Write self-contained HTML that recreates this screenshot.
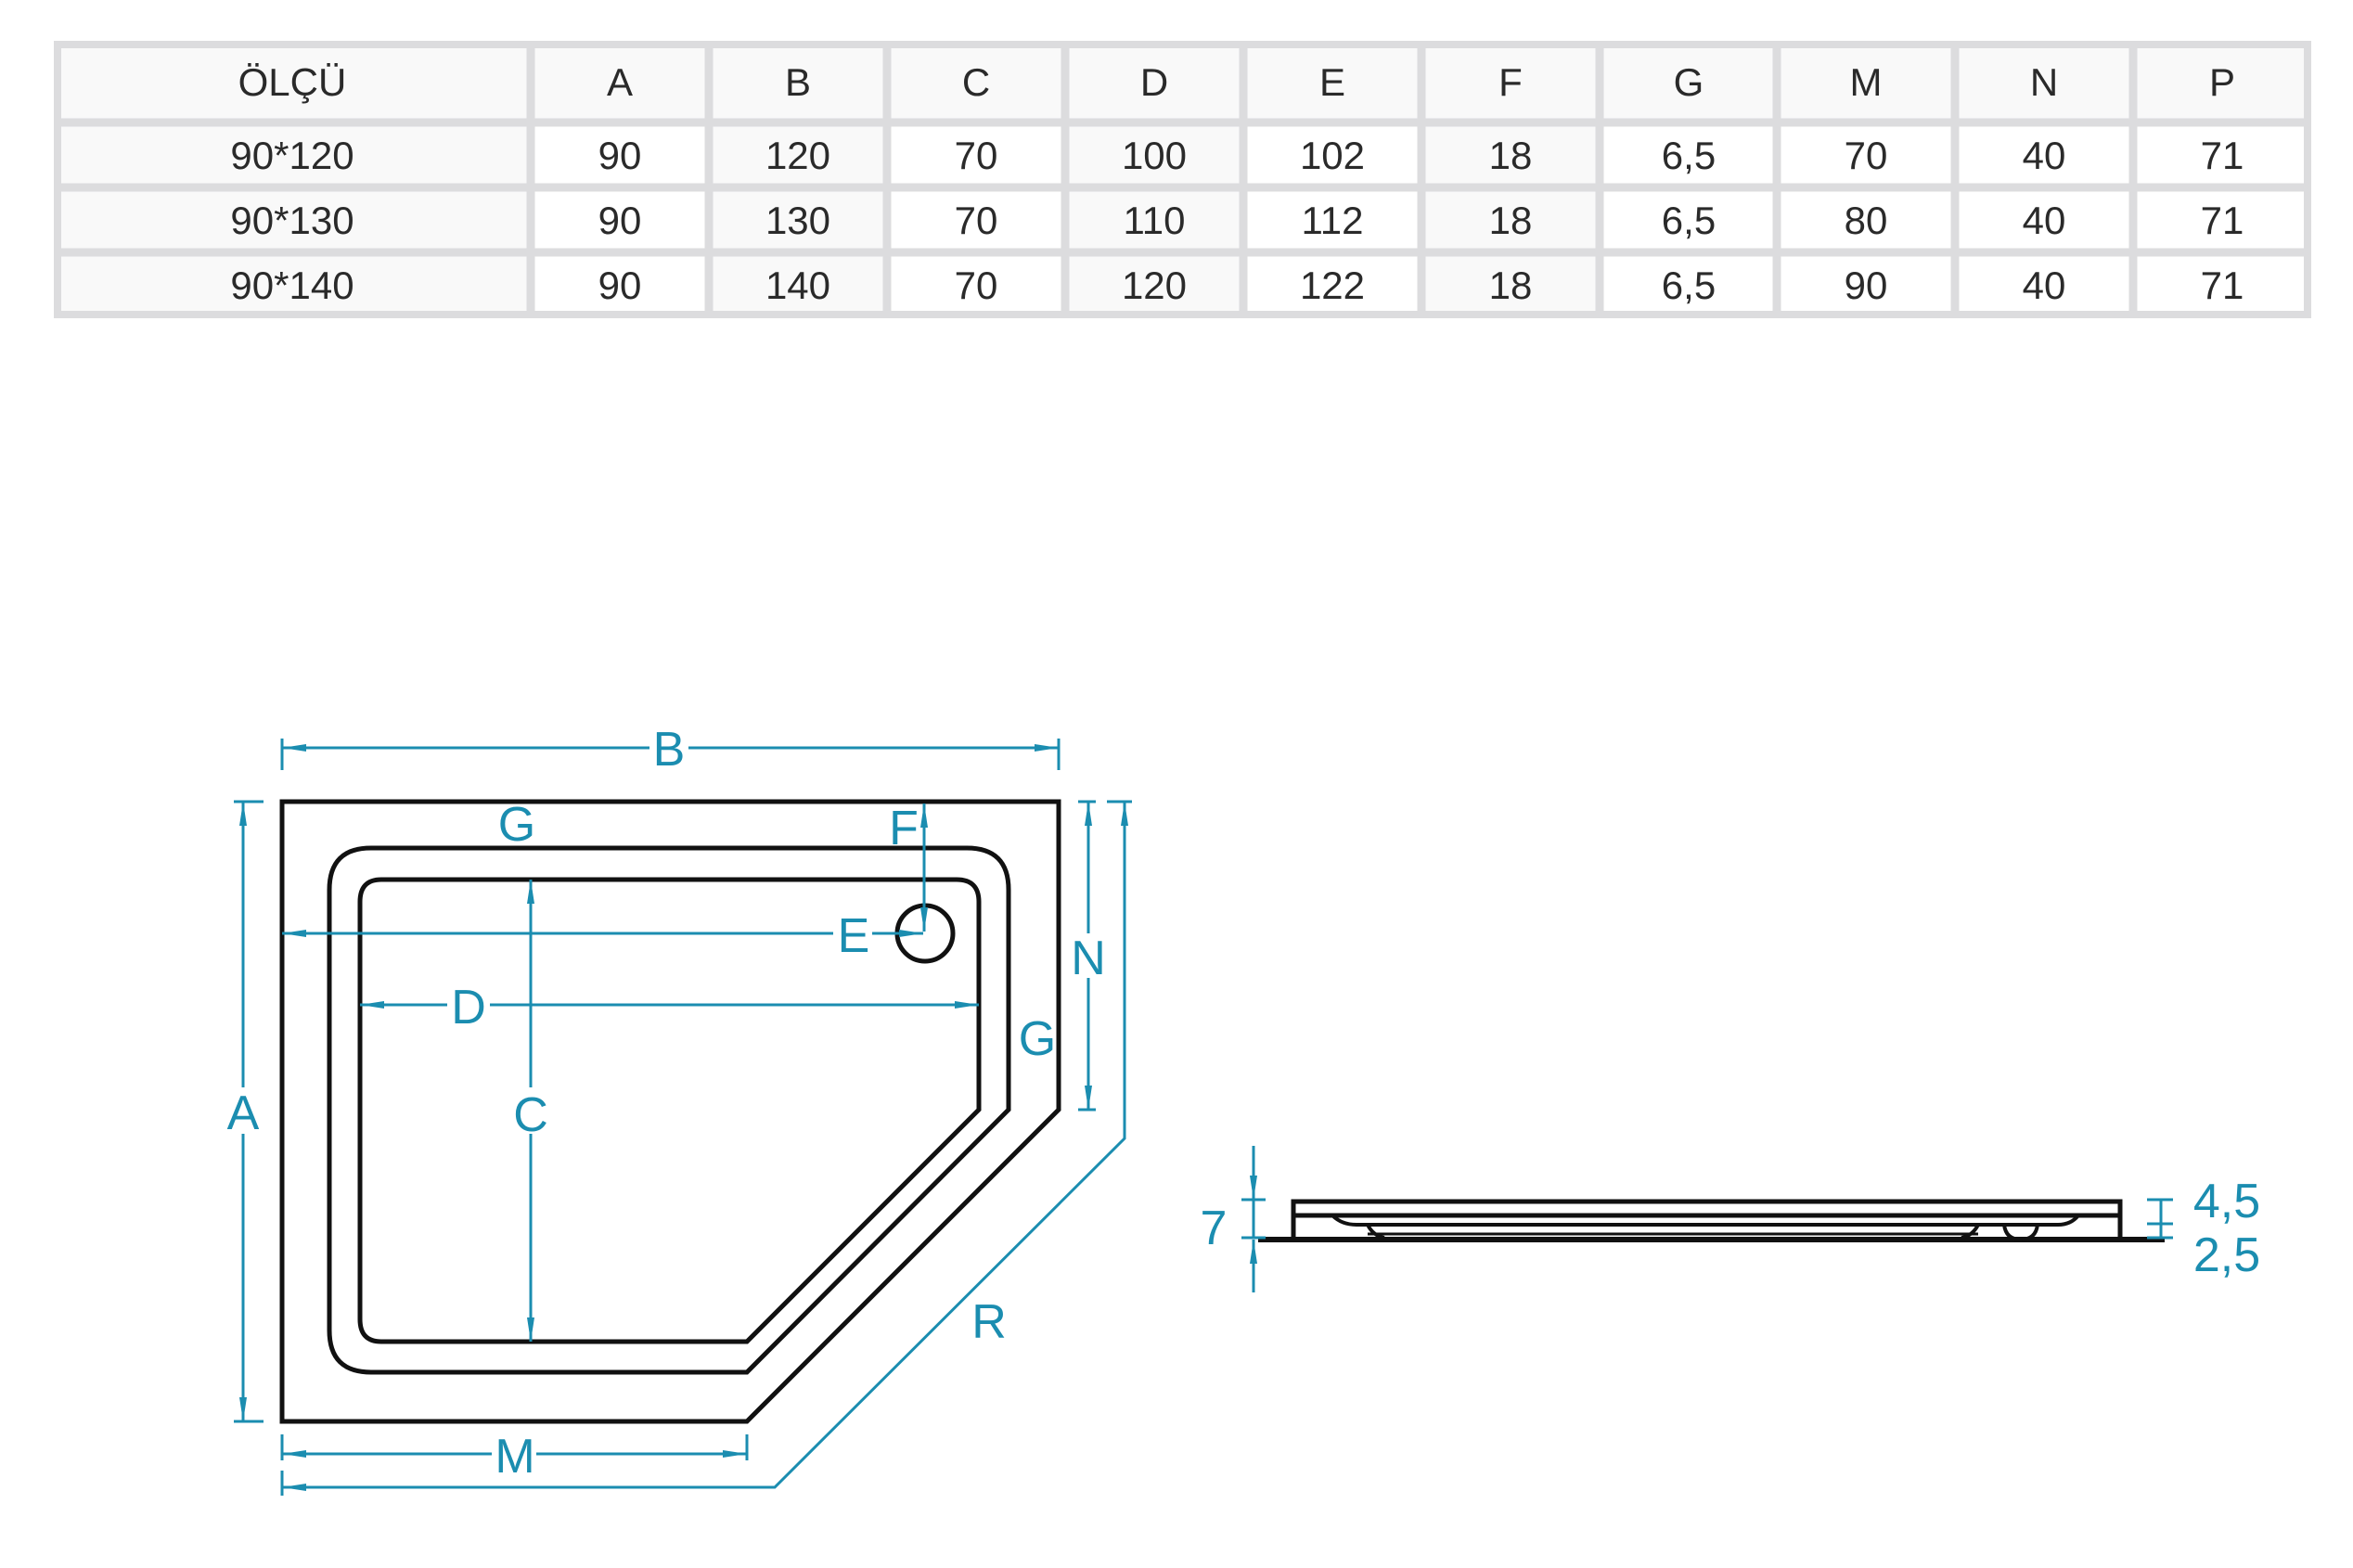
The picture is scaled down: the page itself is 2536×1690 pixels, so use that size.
<!DOCTYPE html>
<html><head><meta charset="utf-8"><style>
html,body{margin:0;padding:0;background:#fff;}
svg{display:block;}
.t{font-family:"Liberation Sans",sans-serif;font-size:42px;fill:#2a2a2a;text-anchor:middle;}
.b{font-family:"Liberation Sans",sans-serif;font-size:52px;fill:#1b8db0;text-anchor:middle;}
</style></head><body>
<svg width="2536" height="1690" viewBox="0 0 2536 1690" xmlns="http://www.w3.org/2000/svg">
<defs>
<marker id="ar" viewBox="0 0 26 10" refX="26" refY="5" markerWidth="26" markerHeight="10" markerUnits="userSpaceOnUse" orient="auto-start-reverse">
<path d="M0,1 L26,5 L0,9 Z" fill="#1b8db0"/>
</marker>
</defs>
<!-- table -->
<rect x="58" y="44" width="2433" height="299" fill="#f9f9f9"/>
<g fill="#ffffff">
<rect x="572" y="132" width="192" height="211"/>
<rect x="956" y="132" width="192" height="211"/>
<rect x="1340" y="132" width="192" height="211"/>
<rect x="1724" y="132" width="767" height="211"/>
</g>
<g stroke="#dcdcde" stroke-width="9">
<line x1="572" y1="44" x2="572" y2="343"/>
<line x1="764" y1="44" x2="764" y2="343"/>
<line x1="956" y1="44" x2="956" y2="343"/>
<line x1="1148" y1="44" x2="1148" y2="343"/>
<line x1="1340" y1="44" x2="1340" y2="343"/>
<line x1="1532" y1="44" x2="1532" y2="343"/>
<line x1="1724" y1="44" x2="1724" y2="343"/>
<line x1="1915" y1="44" x2="1915" y2="343"/>
<line x1="2107" y1="44" x2="2107" y2="343"/>
<line x1="2299" y1="44" x2="2299" y2="343"/>
<line x1="58" y1="132" x2="2491" y2="132"/>
<line x1="58" y1="202" x2="2491" y2="202"/>
<line x1="58" y1="272" x2="2491" y2="272"/>
</g>
<rect x="62" y="48" width="2425" height="291" fill="none" stroke="#dcdcde" stroke-width="8"/>
<g class="t">
<text class="t" x="315" y="103">ÖLÇÜ</text><text class="t" x="668" y="103">A</text><text class="t" x="860" y="103">B</text><text class="t" x="1052" y="103">C</text><text class="t" x="1244" y="103">D</text><text class="t" x="1436" y="103">E</text><text class="t" x="1628" y="103">F</text><text class="t" x="1820" y="103">G</text><text class="t" x="2011" y="103">M</text><text class="t" x="2203" y="103">N</text><text class="t" x="2395" y="103">P</text>
<text class="t" x="315" y="182">90*120</text><text class="t" x="668" y="182">90</text><text class="t" x="860" y="182">120</text><text class="t" x="1052" y="182">70</text><text class="t" x="1244" y="182">100</text><text class="t" x="1436" y="182">102</text><text class="t" x="1628" y="182">18</text><text class="t" x="1820" y="182">6,5</text><text class="t" x="2011" y="182">70</text><text class="t" x="2203" y="182">40</text><text class="t" x="2395" y="182">71</text>
<text class="t" x="315" y="252">90*130</text><text class="t" x="668" y="252">90</text><text class="t" x="860" y="252">130</text><text class="t" x="1052" y="252">70</text><text class="t" x="1244" y="252">110</text><text class="t" x="1436" y="252">112</text><text class="t" x="1628" y="252">18</text><text class="t" x="1820" y="252">6,5</text><text class="t" x="2011" y="252">80</text><text class="t" x="2203" y="252">40</text><text class="t" x="2395" y="252">71</text>
<text class="t" x="315" y="322">90*140</text><text class="t" x="668" y="322">90</text><text class="t" x="860" y="322">140</text><text class="t" x="1052" y="322">70</text><text class="t" x="1244" y="322">120</text><text class="t" x="1436" y="322">122</text><text class="t" x="1628" y="322">18</text><text class="t" x="1820" y="322">6,5</text><text class="t" x="2011" y="322">90</text><text class="t" x="2203" y="322">40</text><text class="t" x="2395" y="322">71</text>
</g>

<!-- plan drawing -->
<g fill="none" stroke="#111" stroke-width="5" stroke-linejoin="miter">
<path d="M304,864 L1141,864 L1141,1196 L805,1532 L304,1532 Z"/>
<path d="M400,914 L1042,914 Q1087,914 1087,959 L1087,1196 L805,1479 L400,1479 Q355,1479 355,1434 L355,959 Q355,914 400,914 Z"/>
<path d="M411,948 L1031,948 Q1055,948 1055,972 L1055,1196 L805,1446 L411,1446 Q388,1446 388,1422 L388,972 Q388,948 411,948 Z"/>
<circle cx="997" cy="1006" r="30"/>
</g>

<g stroke="#1b8db0" stroke-width="3" fill="none">
<line x1="304" y1="796" x2="304" y2="830"/><line x1="1141" y1="796" x2="1141" y2="830"/>
<line x1="304" y1="806" x2="700" y2="806" marker-start="url(#ar)"/>
<line x1="742" y1="806" x2="1141" y2="806" marker-end="url(#ar)"/>
<line x1="252" y1="864" x2="284" y2="864"/><line x1="252" y1="1532" x2="284" y2="1532"/>
<line x1="262" y1="864" x2="262" y2="1172" marker-start="url(#ar)"/>
<line x1="262" y1="1222" x2="262" y2="1532" marker-end="url(#ar)"/>
<line x1="1162" y1="864" x2="1181" y2="864"/><line x1="1162" y1="1196" x2="1181" y2="1196"/>
<line x1="1173" y1="864" x2="1173" y2="1006" marker-start="url(#ar)"/>
<line x1="1173" y1="1054" x2="1173" y2="1196" marker-end="url(#ar)"/>
<line x1="1193" y1="864" x2="1220" y2="864"/>
<polyline points="1212,864 1212,1227 835,1603 304,1603" marker-start="url(#ar)" marker-end="url(#ar)"/>
<line x1="304" y1="1585" x2="304" y2="1612"/>
<line x1="304" y1="1546" x2="304" y2="1574"/><line x1="805" y1="1546" x2="805" y2="1574"/>
<line x1="304" y1="1567" x2="530" y2="1567" marker-start="url(#ar)"/>
<line x1="578" y1="1567" x2="805" y2="1567" marker-end="url(#ar)"/>
<line x1="304" y1="1006" x2="898" y2="1006" marker-start="url(#ar)"/>
<line x1="940" y1="1006" x2="995" y2="1006" marker-end="url(#ar)"/>
<line x1="996" y1="866" x2="996" y2="1004" marker-start="url(#ar)" marker-end="url(#ar)"/>
<line x1="388" y1="1083" x2="482" y2="1083" marker-start="url(#ar)"/>
<line x1="528" y1="1083" x2="1055" y2="1083" marker-end="url(#ar)"/>
<line x1="572" y1="948" x2="572" y2="1172" marker-start="url(#ar)"/>
<line x1="572" y1="1222" x2="572" y2="1446" marker-end="url(#ar)"/>
</g>
<text class="b" x="721" y="825">B</text>
<text class="b" x="262" y="1217">A</text>
<text class="b" x="1173" y="1050">N</text>
<text class="b" x="1066" y="1442" font-size="46">R</text>
<text class="b" x="555" y="1587">M</text>
<text class="b" x="920" y="1026">E</text>
<text class="b" x="974" y="910">F</text>
<text class="b" x="505" y="1103">D</text>
<text class="b" x="572" y="1219">C</text>
<text class="b" x="557" y="906" font-size="44">G</text>
<text class="b" x="1118" y="1137" font-size="44">G</text>

<!-- side view -->
<g fill="none" stroke="#111" stroke-width="5">
<path d="M1394,1334 L1394,1295 L2285,1295 L2285,1334"/>
<line x1="1394" y1="1310" x2="2285" y2="1310"/>
<line x1="1356" y1="1336" x2="2333" y2="1336" stroke-width="6"/>
<path d="M1436,1310 Q1446,1320 1462,1320 L2218,1320 Q2232,1320 2240,1310" stroke-width="4"/>
<path d="M1474,1320 Q1480,1332 1492,1334" stroke-width="4"/>
<path d="M2132,1320 Q2126,1332 2114,1334" stroke-width="4"/>
<line x1="1474" y1="1330" x2="2132" y2="1330" stroke-width="3"/>
<path d="M2160,1320 Q2162,1336 2178,1336 Q2194,1336 2196,1320" stroke-width="4"/>
</g>
<g stroke="#1b8db0" stroke-width="3" fill="none">
<line x1="1351" y1="1235" x2="1351" y2="1293" marker-end="url(#ar)"/>
<line x1="1351" y1="1293" x2="1351" y2="1334"/>
<line x1="1351" y1="1393" x2="1351" y2="1336" marker-end="url(#ar)"/>
<line x1="1338" y1="1293" x2="1364" y2="1293"/><line x1="1338" y1="1334" x2="1364" y2="1334"/>
<line x1="2329" y1="1293" x2="2329" y2="1334"/>
<line x1="2314" y1="1293" x2="2342" y2="1293"/><line x1="2314" y1="1319" x2="2342" y2="1319"/><line x1="2314" y1="1334" x2="2342" y2="1334"/>
</g>
<text class="b" x="1308" y="1341" font-size="54">7</text>
<text class="b" x="2400" y="1312" font-size="54">4,5</text>
<text class="b" x="2400" y="1370" font-size="54">2,5</text>
</svg>
</body></html>
